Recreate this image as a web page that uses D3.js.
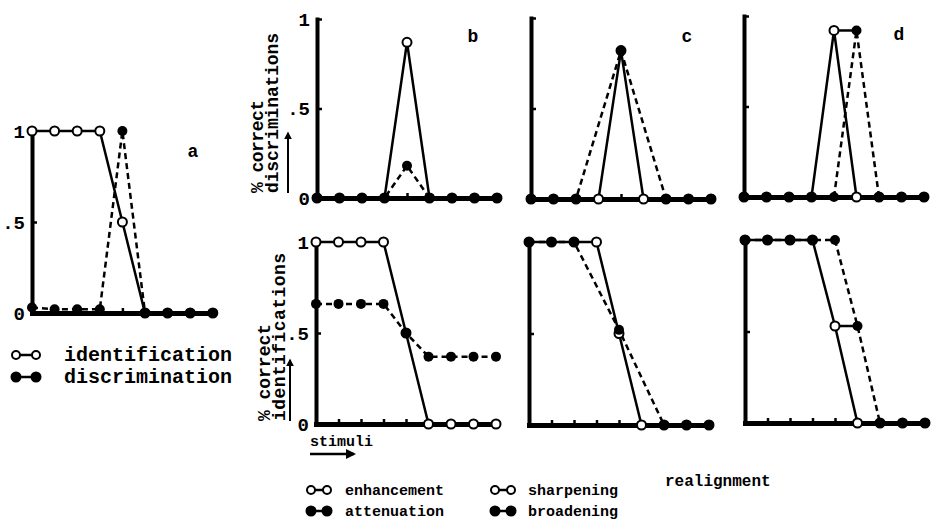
<!DOCTYPE html>
<html>
<head>
<meta charset="utf-8">
<script src="https://cdn.jsdelivr.net/npm/d3@7"></script>
<style>
  body { margin: 0; background: #fff; }
  svg { display: block; font-family: "Liberation Mono", "Courier New", monospace; font-weight: bold; }
</style>
</head>
<body>
<div id="chart"></div>
<script>
// stimulus positions along the continuum
var stimuli = [0, 1, 2, 3, 4, 5, 6, 7, 8];
var yTicks = [0, 0.5, 1];
var yTickLabels = ["0", ".5", "1"];

// panel a: [stimulus, proportion]
var identification = [[0,1],[1,1],[2,1],[3,1],[4,0.5],[5,0],[6,0],[7,0],[8,0]];
var discrimination = [[0,0.03],[1,0.02],[2,0.02],[3,0.02],[4,1],[5,0],[6,0],[7,0],[8,0]];

// panel b
var enhancementDisc = [[0,0],[1,0],[2,0],[3,0],[4,0.87],[5,0],[6,0],[7,0],[8,0]];
var attenuationDisc = [[0,0],[1,0],[2,0],[3,0],[4,0.18],[5,0],[6,0],[7,0],[8,0]];
var enhancementId = [[0,1],[1,1],[2,1],[3,1],[4,0.5],[5,0],[6,0],[7,0],[8,0]];
var attenuationId = [[0,0.66],[1,0.66],[2,0.66],[3,0.66],[4,0.5],[5,0.37],[6,0.37],[7,0.37],[8,0.37]];

// panel c
var sharpeningDisc = [[0,0],[1,0],[2,0],[3,0],[4,0.82],[5,0],[6,0],[7,0],[8,0]];
var broadeningDisc = [[0,0],[1,0],[2,0],[4,0.82],[6,0],[7,0],[8,0]];
var sharpeningId = [[0,1],[1,1],[2,1],[3,1],[4,0.5],[5,0],[6,0],[7,0],[8,0]];
var broadeningId = [[0,1],[1,1],[2,1],[4,0.52],[6,0],[7,0],[8,0]];

// panel d
var realignOrigDisc = [[0,0],[1,0],[2,0],[3,0],[4,0.92],[5,0],[6,0],[7,0],[8,0]];
var realignShiftDisc = [[0,0],[1,0],[2,0],[3,0],[4,0],[5,0.92],[6,0],[7,0],[8,0]];
var realignOrigId = [[0,1],[1,1],[2,1],[3,1],[4,0.53],[5,0],[6,0],[7,0],[8,0]];
var realignShiftId = [[0,1],[1,1],[2,1],[3,1],[4,1],[5,0.53],[6,0],[7,0],[8,0]];
var realignShift = [4, 5]; // point moved from stimulus 4 to 5

var svg = d3.select("#chart").append("svg")
  .attr("width", 932)
  .attr("height", 521);

svg.append("defs").append("marker")
  .attr("id", "arrow")
  .attr("viewBox", "0 0 10 10")
  .attr("refX", 8).attr("refY", 5)
  .attr("markerWidth", 4).attr("markerHeight", 4)
  .attr("orient", "auto")
  .append("path")
  .attr("d", "M0,0L10,5L0,10z")
  .attr("fill", "#000");

// layout of the seven small plots
var panels = [
  {x0: 32,  y0: 313, y1: 131, step: 22.6, labels: true,  open: identification,  filled: discrimination,  letter: "a", lx: 193, ly: 157},
  {x0: 317, y0: 198, y1: 19,  step: 22.5, labels: true,  open: enhancementDisc, filled: attenuationDisc, letter: "b", lx: 473, ly: 42},
  {x0: 531, y0: 199, y1: 18,  step: 22.5, labels: false, open: sharpeningDisc,  filled: broadeningDisc,  letter: "c", lx: 687, ly: 42},
  {x0: 744, y0: 197, y1: 16,  step: 22.5, labels: false, open: realignOrigDisc, filled: realignShiftDisc, letter: "d", lx: 899, ly: 40, shift: true},
  {x0: 316, y0: 424, y1: 242, step: 22.5, labels: true,  open: enhancementId,   filled: attenuationId},
  {x0: 529, y0: 425, y1: 242, step: 22.5, labels: false, open: sharpeningId,    filled: broadeningId},
  {x0: 745, y0: 423, y1: 240, step: 22.5, labels: false, open: realignOrigId,   filled: realignShiftId, shift: true}
];

panels.forEach(function(p) {
  var x = d3.scaleLinear().domain([0, 8]).range([p.x0, p.x0 + 8 * p.step]);
  var y = d3.scaleLinear().domain([0, 1]).range([p.y0, p.y1]);
  var g = svg.append("g");

  var xAxis = g.append("g")
    .attr("transform", "translate(0," + p.y0 + ")")
    .call(d3.axisBottom(x).tickValues(stimuli).tickSize(-5).tickSizeOuter(0).tickFormat(""));
  xAxis.select(".domain").attr("stroke-width", 5).attr("stroke-linecap", "square");
  xAxis.selectAll(".tick line").attr("stroke-width", 2.5);

  var yAxis = g.append("g")
    .attr("transform", "translate(" + p.x0 + ",0)")
    .call(d3.axisLeft(y).tickValues(yTicks).tickSize(-5).tickSizeOuter(0).tickPadding(7)
      .tickFormat(function(d, i) { return p.labels ? yTickLabels[i] : ""; }));
  yAxis.select(".domain").attr("stroke-width", 4).attr("stroke-linecap", "square");
  yAxis.selectAll(".tick line").attr("stroke-width", 2.5);
  yAxis.selectAll(".tick text")
    .attr("font-family", "Liberation Mono, monospace")
    .attr("font-weight", "bold")
    .attr("font-size", 19)
    .attr("fill", "#000");

  var line = d3.line()
    .x(function(d) { return x(d[0]); })
    .y(function(d) { return y(d[1]); });

  g.append("path")
    .attr("d", line(p.open))
    .attr("fill", "none")
    .attr("stroke", "#000")
    .attr("stroke-width", 2.5);

  g.append("path")
    .attr("d", line(p.filled))
    .attr("fill", "none")
    .attr("stroke", "#000")
    .attr("stroke-width", 2.5)
    .attr("stroke-dasharray", "6,4");

  if (p.shift) {
    var a = p.open.find(function(d) { return d[0] === realignShift[0]; });
    var b = p.filled.find(function(d) { return d[0] === realignShift[1]; });
    g.append("line")
      .attr("x1", x(a[0])).attr("y1", y(a[1]))
      .attr("x2", x(b[0])).attr("y2", y(b[1]))
      .attr("stroke", "#000").attr("stroke-width", 2.5);
  }

  g.selectAll(".open")
    .data(p.open)
    .enter()
    .append("circle")
      .attr("cx", function(d) { return x(d[0]); })
      .attr("cy", function(d) { return y(d[1]); })
      .attr("r", 4.5)
      .attr("fill", "#fff")
      .attr("stroke", "#000")
      .attr("stroke-width", 2);

  g.selectAll(".filled")
    .data(p.filled)
    .enter()
    .append("circle")
      .attr("cx", function(d) { return x(d[0]); })
      .attr("cy", function(d) { return y(d[1]); })
      .attr("r", 5)
      .attr("fill", "#000");

  if (p.letter) {
    svg.append("text")
      .attr("x", p.lx).attr("y", p.ly)
      .attr("text-anchor", "middle")
      .attr("font-size", 18)
      .text(p.letter);
  }
});

// y axis titles: two rotated lines and an upward arrow under the second
function yTitle(cx, bottom, word, len1, len2, ax, arrowTop) {
  var t = svg.append("text")
    .attr("transform", "translate(" + cx + "," + bottom + ") rotate(-90)")
    .attr("font-size", 18);
  t.append("tspan").attr("x", 0).attr("y", 0)
    .attr("textLength", len1).attr("lengthAdjust", "spacing").text("% correct");
  t.append("tspan").attr("x", 0).attr("y", 15)
    .attr("textLength", len2).attr("lengthAdjust", "spacing").text(word);
  svg.append("line")
    .attr("x1", ax).attr("y1", bottom)
    .attr("x2", ax).attr("y2", arrowTop)
    .attr("stroke", "#000").attr("stroke-width", 2)
    .attr("marker-end", "url(#arrow)");
}
yTitle(263, 193, "discriminations", 93, 160, 288, 133);
yTitle(270, 421, "identifications", 97, 168, 290, 360);

// stimuli label with arrow
svg.append("text").attr("x", 310).attr("y", 446).attr("font-size", 15).text("stimuli");
svg.append("line")
  .attr("x1", 310).attr("y1", 454).attr("x2", 354).attr("y2", 454)
  .attr("stroke", "#000").attr("stroke-width", 2.5)
  .attr("marker-end", "url(#arrow)");

// legends
function legendKey(x1, x2, cy, filled) {
  svg.append("line")
    .attr("x1", x1).attr("y1", cy).attr("x2", x2).attr("y2", cy)
    .attr("stroke", "#000").attr("stroke-width", 2.5);
  [x1, x2].forEach(function(cx) {
    svg.append("circle")
      .attr("cx", cx).attr("cy", cy)
      .attr("r", filled ? 4.5 : 4)
      .attr("fill", filled ? "#000" : "#fff")
      .attr("stroke", "#000").attr("stroke-width", 2);
  });
}

legendKey(16, 36, 355, false);
legendKey(16, 36, 377, true);
svg.append("text").attr("x", 64).attr("y", 361).attr("font-size", 20).text("identification");
svg.append("text").attr("x", 64).attr("y", 383).attr("font-size", 20).text("discrimination");

legendKey(311, 327, 490, false);
legendKey(311, 327, 511, true);
svg.append("text").attr("x", 345).attr("y", 495).attr("font-size", 15).text("enhancement");
svg.append("text").attr("x", 345).attr("y", 516).attr("font-size", 15).text("attenuation");

legendKey(495, 511, 490, false);
legendKey(495, 511, 511, true);
svg.append("text").attr("x", 528).attr("y", 495).attr("font-size", 15).text("sharpening");
svg.append("text").attr("x", 528).attr("y", 516).attr("font-size", 15).text("broadening");

svg.append("text").attr("x", 665).attr("y", 486).attr("font-size", 16).text("realignment");
</script>
</body>
</html>
